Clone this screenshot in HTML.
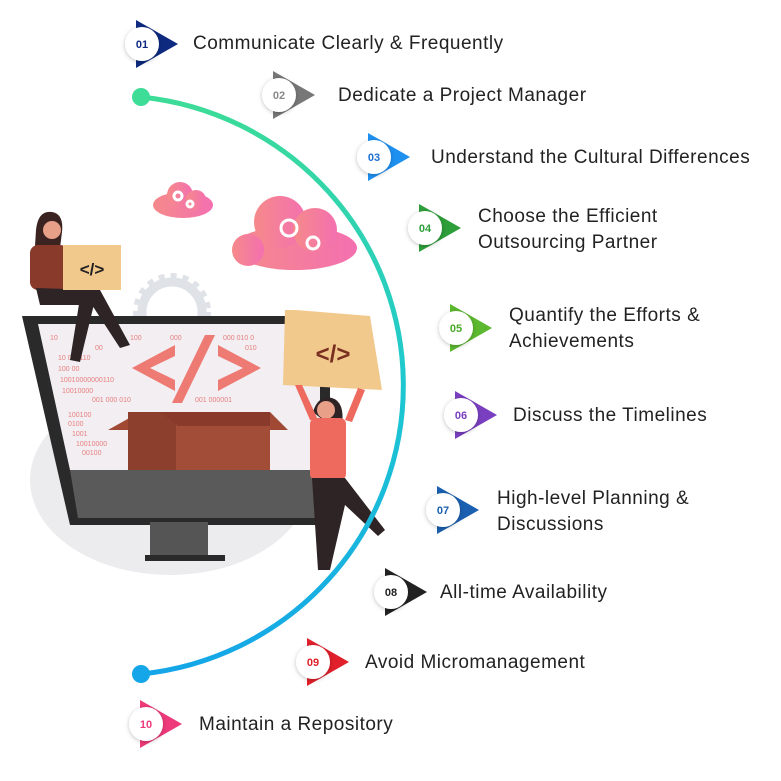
<!DOCTYPE html>
<html><head><meta charset="utf-8"><style>
html,body{margin:0;padding:0;background:#fff;}
svg{display:block;}
text{font-family:"Liberation Sans",sans-serif;}
.t{font-size:19px;fill:#222;letter-spacing:0.5px;}
.n{font-size:11px;font-weight:bold;text-anchor:middle;}
</style></head><body>
<svg width="781" height="781" viewBox="0 0 781 781" xmlns="http://www.w3.org/2000/svg">
<defs>
<linearGradient id="arc" x1="0" y1="0" x2="0" y2="1">
<stop offset="0" stop-color="#3ddc97"/><stop offset="0.5" stop-color="#1ec8d0"/><stop offset="1" stop-color="#14a6e8"/>
</linearGradient>
<linearGradient id="cloud" x1="0" y1="0" x2="1" y2="0">
<stop offset="0" stop-color="#f58a8a"/><stop offset="1" stop-color="#f470b0"/>
</linearGradient>
<filter id="sh" x="-50%" y="-50%" width="200%" height="200%"><feDropShadow dx="0" dy="1" stdDeviation="2" flood-color="#000" flood-opacity="0.25"/></filter>
</defs>

<ellipse cx="170" cy="480" rx="140" ry="95" fill="#ececee"/>
<circle cx="172" cy="312" r="30" fill="none" stroke="#dfe3e8" stroke-width="9"/>
<circle cx="172" cy="312" r="36" fill="none" stroke="#dfe3e8" stroke-width="6" stroke-dasharray="6 6"/>
<polygon points="22,316 330,316 330,525 70,525" fill="#2a2a2a"/>
<polygon points="38,324 320,324 320,470 70,470" fill="#f2eef2"/>
<polygon points="70,470 320,470 320,518 78,518" fill="#5a5a5a"/>
<rect x="150" y="522" width="58" height="36" fill="#555"/>
<rect x="145" y="555" width="80" height="6" fill="#2a2a2a"/>
<g fill="#e88080" font-size="7" font-family="Liberation Mono,monospace">
<text x="50" y="340">10</text><text x="130" y="340">100</text><text x="170" y="340">000</text><text x="223" y="340">000 010 0</text>
<text x="95" y="350">00</text><text x="245" y="350">010</text>
<text x="58" y="360">10  000110</text><text x="58" y="371">100  00</text>
<text x="60" y="382">10010000000110</text><text x="62" y="393">10010000</text>
<text x="92" y="402">001  000  010</text><text x="195" y="402">001  000001</text>
<text x="68" y="417">100100</text><text x="68" y="426">0100</text><text x="72" y="436">1001</text>
<text x="76" y="446">10010000</text><text x="82" y="455">00100</text>
</g>
<g fill="#ee7a74">
<polygon points="175,345 132,368 175,391 175,380 150,368 175,356"/>
<polygon points="218,345 261,368 218,391 218,380 243,368 218,356"/>
<polygon points="205,335 215,335 182,403 172,403"/>
</g>
<polygon points="108,430 140,412 270,412 288,430" fill="#a04a35"/>
<rect x="128" y="412" width="142" height="58" fill="#a24d38"/>
<rect x="128" y="412" width="48" height="58" fill="#8d3f2e"/>
<polygon points="160,412 178,426 270,426 270,412" fill="#8a3a2a"/>
<g fill="url(#cloud)">
<ellipse cx="183" cy="205" rx="30" ry="13"/><circle cx="180" cy="195" r="13"/><circle cx="196" cy="200" r="10"/>
<ellipse cx="295" cy="248" rx="62" ry="22"/><circle cx="280" cy="222" r="26"/><circle cx="315" cy="230" r="22"/><circle cx="248" cy="250" r="16"/>
</g>
<g fill="none" stroke="#fff" stroke-width="3">
<circle cx="178" cy="196" r="4"/><circle cx="190" cy="204" r="3"/>
<circle cx="289" cy="228" r="8"/><circle cx="313" cy="243" r="6"/>
</g>
<!-- woman 1 -->
<path d="M36,230 Q38,210 52,212 Q64,214 62,232 L60,248 L34,262 Z" fill="#3a2320"/>
<circle cx="52" cy="230" r="9" fill="#e8a088"/>
<rect x="30" y="245" width="38" height="45" rx="8" fill="#8a3a2a"/>
<path d="M36,288 L100,290 L130,345 L120,348 L92,305 L40,305 Z" fill="#2e2426"/>
<path d="M80,298 L70,360 L80,362 L95,300 Z" fill="#2e2426"/>
<rect x="63" y="245" width="58" height="45" fill="#f2c98c"/>
<text x="92" y="275" font-size="17" font-weight="bold" fill="#222" text-anchor="middle">&lt;/&gt;</text>
<!-- woman 2 -->
<path d="M285,310 L296,310 L370,316 L382,390 L283,385 Z" fill="#f2c98c"/>
<text x="333" y="362" font-size="24" font-weight="bold" fill="#7a3020" text-anchor="middle">&lt;/&gt;</text>
<path d="M313,412 Q318,395 332,398 Q345,402 342,425 L335,430 Z" fill="#2e2426"/>
<circle cx="326" cy="410" r="9" fill="#e8a088"/>
<path d="M295,385 L310,420 L318,420 L302,385 Z M358,388 L345,420 L352,422 L365,390 Z" fill="#ee6a5e"/>
<rect x="310" y="418" width="36" height="62" rx="6" fill="#ee6a5e"/>
<path d="M312,478 L345,478 L385,530 L378,536 L345,505 L330,570 L318,570 Z" fill="#2e2426"/>

<path d="M141,97 A292,290 0 0 1 141,674" fill="none" stroke="url(#arc)" stroke-width="5"/>
<circle cx="141" cy="97" r="9" fill="#3ddc97"/>
<circle cx="141" cy="674" r="9" fill="#14a6e8"/>

<g transform="translate(142,44)"><polygon points="-6,-24 36,0 -6,24" fill="#0d2a80"/><circle r="17" fill="#fff" filter="url(#sh)"/><text class="n" y="4" fill="#0d2a80">01</text></g>
<g transform="translate(279,95)"><polygon points="-6,-24 36,0 -6,24" fill="#777"/><circle r="17" fill="#fff" filter="url(#sh)"/><text class="n" y="4" fill="#888">02</text></g>
<g transform="translate(374,157)"><polygon points="-6,-24 36,0 -6,24" fill="#1e90f0"/><circle r="17" fill="#fff" filter="url(#sh)"/><text class="n" y="4" fill="#1e70d0">03</text></g>
<g transform="translate(425,228)"><polygon points="-6,-24 36,0 -6,24" fill="#2e9e3a"/><circle r="17" fill="#fff" filter="url(#sh)"/><text class="n" y="4" fill="#2e9e3a">04</text></g>
<g transform="translate(456,328)"><polygon points="-6,-24 36,0 -6,24" fill="#5cb82e"/><circle r="17" fill="#fff" filter="url(#sh)"/><text class="n" y="4" fill="#4aa82a">05</text></g>
<g transform="translate(461,415)"><polygon points="-6,-24 36,0 -6,24" fill="#7a3fc0"/><circle r="17" fill="#fff" filter="url(#sh)"/><text class="n" y="4" fill="#7a3fc0">06</text></g>
<g transform="translate(443,510)"><polygon points="-6,-24 36,0 -6,24" fill="#1a5fb0"/><circle r="17" fill="#fff" filter="url(#sh)"/><text class="n" y="4" fill="#1a5fb0">07</text></g>
<g transform="translate(391,592)"><polygon points="-6,-24 36,0 -6,24" fill="#222"/><circle r="17" fill="#fff" filter="url(#sh)"/><text class="n" y="4" fill="#222">08</text></g>
<g transform="translate(313,662)"><polygon points="-6,-24 36,0 -6,24" fill="#e0202a"/><circle r="17" fill="#fff" filter="url(#sh)"/><text class="n" y="4" fill="#e0202a">09</text></g>
<g transform="translate(146,724)"><polygon points="-6,-24 36,0 -6,24" fill="#ee3a7a"/><circle r="17" fill="#fff" filter="url(#sh)"/><text class="n" y="4" fill="#ee3a7a">10</text></g>

<text class="t" x="193" y="49">Communicate Clearly &amp; Frequently</text>
<text class="t" x="338" y="101">Dedicate a Project Manager</text>
<text class="t" x="431" y="163">Understand the Cultural Differences</text>
<text class="t" x="478" y="222">Choose the Efficient</text>
<text class="t" x="478" y="248">Outsourcing Partner</text>
<text class="t" x="509" y="321">Quantify the Efforts &amp;</text>
<text class="t" x="509" y="347">Achievements</text>
<text class="t" x="513" y="421">Discuss the Timelines</text>
<text class="t" x="497" y="504">High-level Planning &amp;</text>
<text class="t" x="497" y="530">Discussions</text>
<text class="t" x="440" y="598">All-time Availability</text>
<text class="t" x="365" y="668">Avoid Micromanagement</text>
<text class="t" x="199" y="730">Maintain a Repository</text>
</svg>
</body></html>
